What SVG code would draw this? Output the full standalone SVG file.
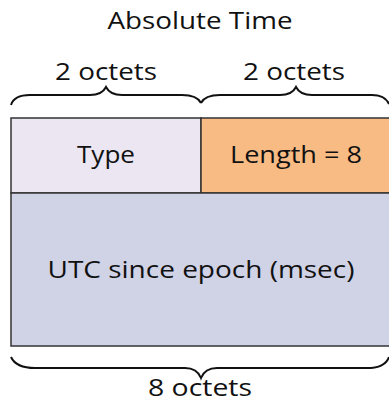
<svg xmlns="http://www.w3.org/2000/svg" width="389" height="406" viewBox="0 0 389 406">
<style>
text{font-family:"Open Sans","Noto Sans","DejaVu Sans",sans-serif;font-size:24px;fill:#111;text-anchor:middle}
.cell{stroke:#333;stroke-width:1.5}
.brace{fill:none;stroke:#111;stroke-width:2}
</style>
<rect width="389" height="406" fill="#fff"/>
<text x="200" y="29" textLength="185" lengthAdjust="spacingAndGlyphs">Absolute Time</text>
<g id="braces">
<text x="106" y="80" textLength="102" lengthAdjust="spacingAndGlyphs">2 octets</text>
<text x="294" y="80" textLength="102" lengthAdjust="spacingAndGlyphs">2 octets</text>
<path class="brace" d="M11,105 Q14,95 30,95 L90,95 Q102,95 106,87 Q110,95 122,95 L182,95 Q197,95 201,103"/>
<path class="brace" d="M201,103 Q205,95 220,95 L280,95 Q292,95 296,87 Q300,95 312,95 L372,95 Q385,95 389,104"/>
<path class="brace" d="M11,357 Q16,368 35,368 L185,368 Q197,368 201,378 Q205,368 217,368 L367,368 Q385,368 389,357"/>
<text x="200" y="396" textLength="104" lengthAdjust="spacingAndGlyphs">8 octets</text>
</g>
<g id="type"><rect class="cell" x="11" y="118" width="190" height="75" fill="#ebe6f2"/><text x="106" y="163" textLength="58" lengthAdjust="spacingAndGlyphs">Type</text></g>
<g id="length"><rect class="cell" x="201" y="118" width="190" height="75" fill="#f9bb84"/><text x="296" y="163" textLength="132" lengthAdjust="spacingAndGlyphs">Length = 8</text></g>
<g id="utc"><rect class="cell" x="11" y="193" width="380" height="153" fill="#d0d2e6"/><text x="201" y="278" textLength="307" lengthAdjust="spacingAndGlyphs">UTC since epoch (msec)</text></g>
</svg>
